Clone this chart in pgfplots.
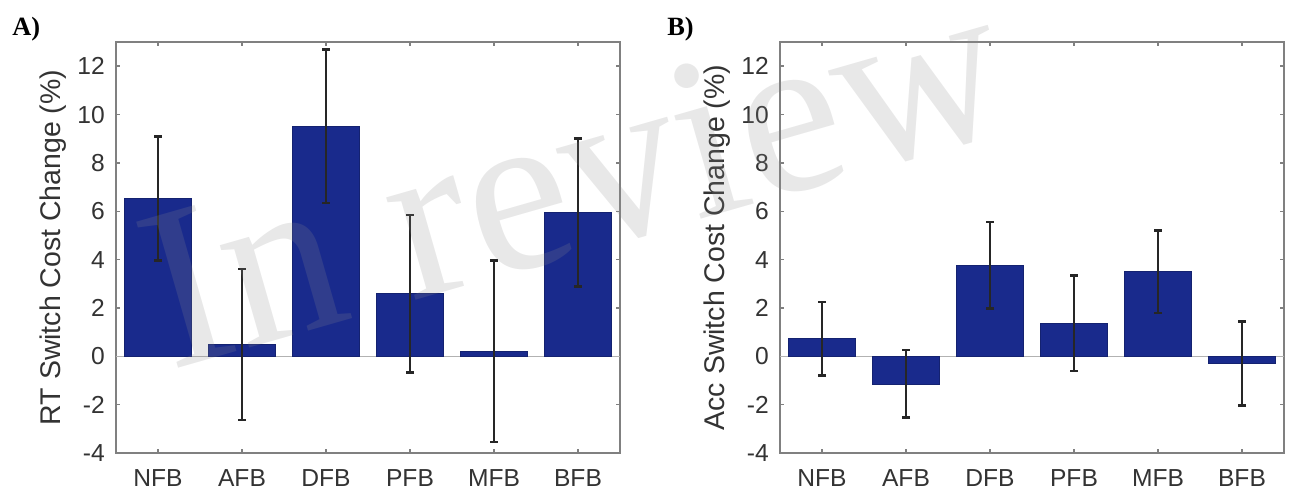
\documentclass[border=0pt]{standalone}
\usepackage{pgfplots}
\pgfplotsset{compat=1.18}
\usepackage{pgfplotstable}
\usepackage{fontspec}
\setmainfont{Liberation Sans}
\newfontfamily\serif{Liberation Serif}

\definecolor{barblue}{RGB}{25,42,140}
\definecolor{wmgray}{RGB}{140,140,140}

% RT switch cost change: mean and error
\pgfplotstableread{
x y e
1 6.53 2.57
2 0.49 3.13
3 9.52 3.17
4 2.59 3.26
5 0.21 3.75
6 5.94 3.06
}\rtdata

% Acc switch cost change
\pgfplotstableread{
x y e
1 0.73 1.52
2 -1.14 1.40
3 3.77 1.79
4 1.37 1.97
5 3.50 1.71
6 -0.30 1.74
}\accdata

\pgfplotsset{
  panel/.style={
    scale only axis,
    width=10.08cm, height=8.22cm,
    xmin=0.5, xmax=6.5, ymin=-4, ymax=13,
    xtick={1,...,6},
    xticklabels={NFB,AFB,DFB,PFB,MFB,BFB},
    ytick={-4,-2,...,12},
    tick align=inside, tick pos=both,
    major tick length=0.08cm,
    axis line style={black!50, line width=0.8pt},
    tick style={black!50, line width=0.8pt},
    ticklabel style={font=\fontsize{14}{16}\selectfont, text=black!80},
    yticklabel style={xshift=-0.1cm},
    xticklabel style={yshift=-0.2cm},
    ylabel style={at={(axis description cs:-0.125,0.5)}, anchor=center,
      font=\fontsize{16.2}{19}\selectfont, text=black!80},
    /pgf/number format/assume math mode=true,
  },
  bars/.style={
    ybar, bar width=0.8, fill=barblue, draw=barblue!80!black, line width=0.4pt,
    error bars/.cd, y dir=both, y explicit,
    error bar style={black!85, line width=1.1pt},
    error mark options={rotate=90, black!85, mark size=0.08cm, line width=1.4pt},
  },
}

\begin{document}
\begin{tikzpicture}
  \path[use as bounding box] (0,0) rectangle (25.78cm,9.92cm);

  \begin{axis}[panel, at={(2.32cm,0.86cm)}, anchor=south west,
    ylabel={RT Switch Cost Change (\%)}]
    \addplot [black!30, line width=0.8pt, forget plot] coordinates {(0.5,0) (6.5,0)};
    \addplot [bars] table [x=x, y=y, y error=e] {\rtdata};
  \end{axis}

  \begin{axis}[panel, at={(15.6cm,0.86cm)}, anchor=south west,
    ylabel={Acc Switch Cost Change (\%)}]
    \addplot [black!30, line width=0.8pt, forget plot] coordinates {(0.5,0) (6.5,0)};
    \addplot [bars] table [x=x, y=y, y error=e] {\accdata};
  \end{axis}

  \node[anchor=base west, inner sep=0, font=\serif\bfseries\fontsize{15}{18}\selectfont]
    at (0.24cm,9.2cm) {A)};
  \node[anchor=base west, inner sep=0, font=\serif\bfseries\fontsize{15}{18}\selectfont]
    at (13.34cm,9.2cm) {B)};

  % watermark
  \node[rotate=16, anchor=base west, text=wmgray, text opacity=0.2, inner sep=0,
    font=\serif\fontsize{132}{132}\selectfont] at (3.4cm,2.5cm) {In review};
\end{tikzpicture}
\end{document}
